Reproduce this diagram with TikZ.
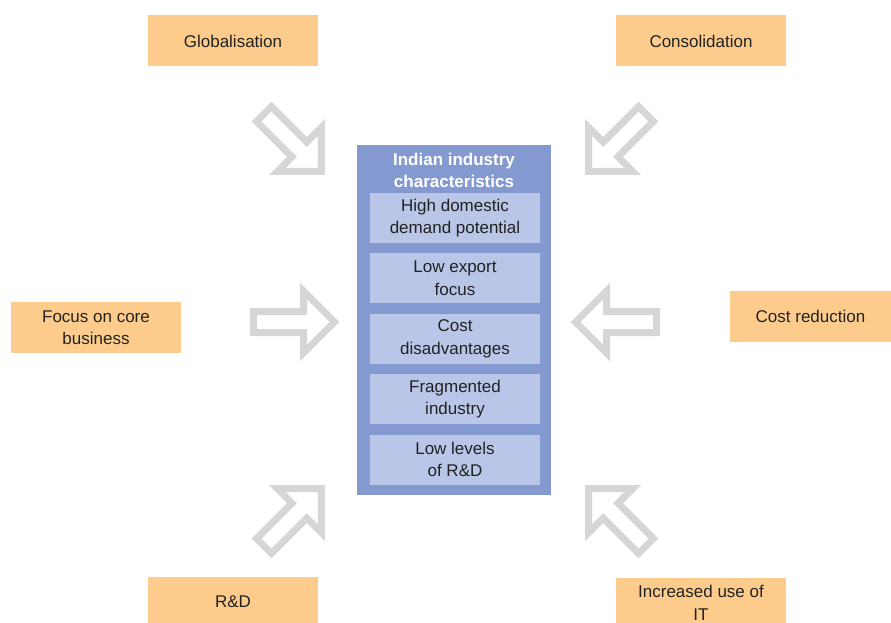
\documentclass[tikz,border=0pt]{standalone}
\usepackage{fontspec}
\setmainfont{Liberation Sans}
\usepackage{tikz}
\usetikzlibrary{positioning}
\definecolor{drvorange}{HTML}{FDCC8C}
\definecolor{indblue}{HTML}{8499CF}
\definecolor{charblue}{HTML}{B9C6E7}
\definecolor{arrgray}{HTML}{D6D6D6}
\definecolor{txtgray}{HTML}{222222}
\begin{document}
\begin{tikzpicture}[x=1pt,y=-1pt,font=\fontsize{17}{22.5}\selectfont,text=txtgray,node distance=10pt,
 driver/.style={fill=drvorange,minimum width=170pt,minimum height=51pt,align=center,inner sep=2pt},
 charbox/.style={fill=charblue,minimum width=170pt,minimum height=50pt,align=center,inner sep=2pt},
 arrowline/.style={draw=arrgray,line width=7pt,fill=white,line join=miter},
 hollowarrow/.pic={\path[arrowline] (-41,-10.5) -- (9,-10.5) -- (9,-31) -- (40,0) -- (9,31) -- (9,10.5) -- (-41,10.5) -- cycle;}]
\useasboundingbox (0,0) rectangle (891,623);
% outer drivers
\node[driver] (glob) at (233,41) {Globalisation};
\node[driver] (consol) at (701,41) {Consolidation};
\node[driver] (core) at (96,327.5) {Focus on core\\business};
\node[driver,minimum width=161pt] (cost) at (810.5,316.5) {Cost reduction};
\node[driver] (rnd) at (233,602) {R\&D};
\node[driver] (itx) at (701,603) {Increased use of\\IT};
% centre block
\node[fill=indblue,minimum width=194pt,minimum height=350pt] (ind) at (454,320) {};
\node[text=white,font=\fontsize{17}{22}\selectfont\bfseries,align=center,below=5pt of ind.north] (title) {Indian industry\\characteristics};
\node[charbox] (c1) at (455,218) {High domestic\\demand potential};
\node[charbox,below=of c1] (c2) {Low export\\focus};
\node[charbox,below=of c2] (c3) {Cost\\disadvantages};
\node[charbox,below=of c3] (c4) {Fragmented\\industry};
\node[charbox,below=of c4] (c5) {Low levels\\of R\&D};
% hollow arrows
\pic[rotate=-45] at (293,143) {hollowarrow};
\pic[rotate=-135] at (617,143) {hollowarrow};
\pic at (294.5,322) {hollowarrow};
\pic[rotate=180] at (615.5,322) {hollowarrow};
\pic[rotate=45] at (293,517) {hollowarrow};
\pic[rotate=135] at (617,517) {hollowarrow};
\end{tikzpicture}
\end{document}
